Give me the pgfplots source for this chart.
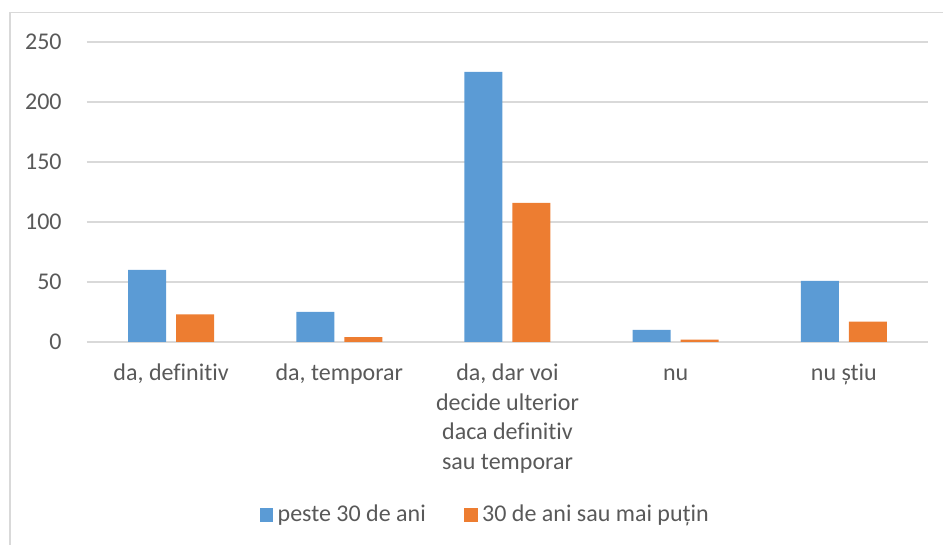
\documentclass[border=0pt]{standalone}
\usepackage{pgfplots}
\pgfplotsset{compat=1.18}
\usepackage{fontspec}
\setmainfont{Carlito}[Ligatures=NoCommon]
\definecolor{cblue}{HTML}{5B9BD5}
\definecolor{corange}{HTML}{ED7D31}
\definecolor{ctext}{HTML}{595959}
\definecolor{cgrid}{HTML}{D9D9D9}
\begin{document}
\fontsize{12}{14.75}\selectfont
\begin{tikzpicture}
\useasboundingbox (-43.5pt,-101.5pt) rectangle (428pt,171pt);
\draw[cgrid, line width=0.75pt] (-38.5pt,-102pt) -- (-38.5pt,164.75pt) -- (429pt,164.75pt);
\begin{axis}[
  at={(0pt,0pt)}, anchor=south west,
  scale only axis,
  width=420.5pt, height=150pt,
  ybar=5pt, bar width=19pt,
  xmin=-0.5, xmax=4.5,
  ymin=0, ymax=250,
  ytick={0,50,100,150,200,250},
  xtick={0,1,2,3,4},
  xticklabels={{\strut da, definitiv},{\strut da, temporar},{\strut da, dar voi\\decide ulterior\\daca definitiv\\sau temporar},{\strut nu},{\strut nu știu}},
  xticklabel style={anchor=north, inner sep=0pt, align=center, yshift=-8.8pt, text=ctext, font=\fontsize{12}{14.75}\selectfont},
  yticklabel style={anchor=east, inner sep=0pt, xshift=-12.5pt, text=ctext, font=\fontsize{12}{14.75}\selectfont},
  /pgf/number format/assume math mode=true,
  axis line style={draw=none},
  major tick length=0pt,
  ymajorgrids, major grid style={cgrid, line width=0.75pt},
  legend style={at={(0.475,-0.5767)}, anchor=center, draw=none, fill=none,
    legend columns=2, font=\fontsize{12}{14.75}\selectfont, text=ctext,
    /tikz/every even column/.append style={column sep=17pt},
    nodes={inner sep=2.2pt}},
  legend image code/.code={\fill[#1] (0pt,-3.4pt) rectangle (6.8pt,3.4pt);},
  legend cell align=left,
]
\addplot[fill=cblue, draw=none] coordinates {(0,60) (1,25) (2,225) (3,10) (4,51)};
\addplot[fill=corange, draw=none] coordinates {(0,23) (1,4) (2,116) (3,2) (4,17)};
\legend{peste 30 de ani, 30 de ani sau mai puțin}
\end{axis}
\end{tikzpicture}
\end{document}
